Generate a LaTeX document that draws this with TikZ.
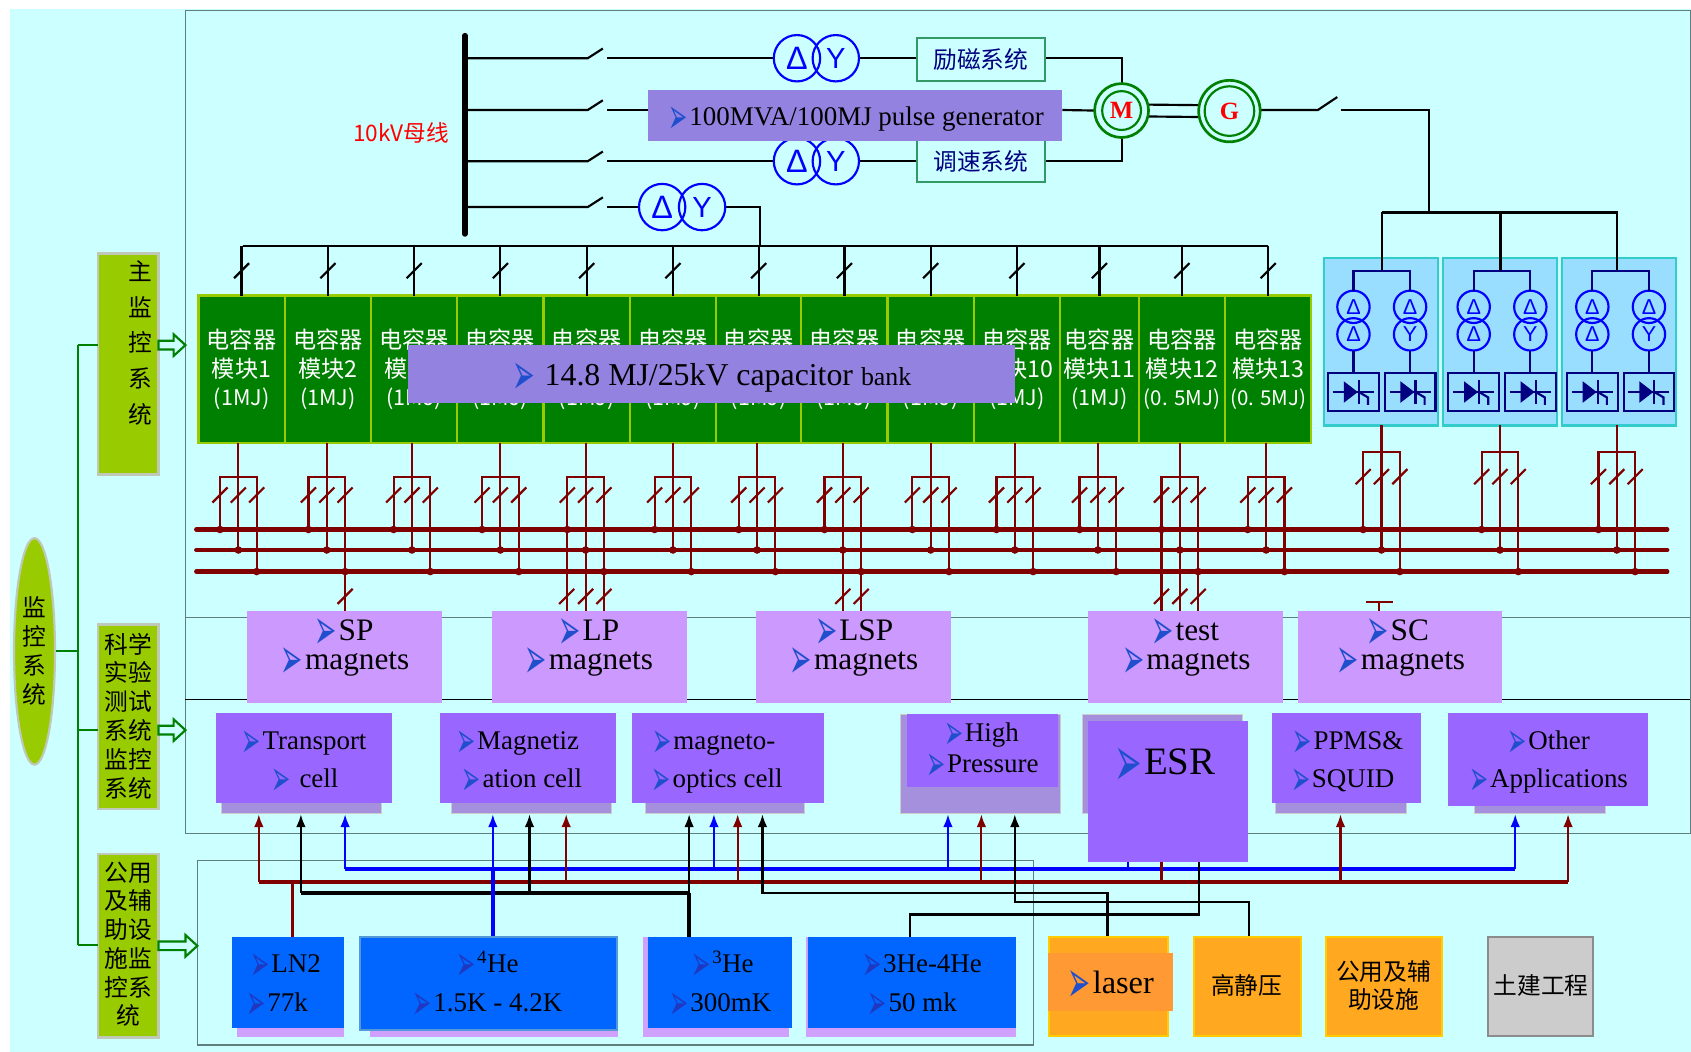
\documentclass[tikz,border=0pt]{standalone}
\usepackage{fontspec}
\usepackage{graphicx}
\usetikzlibrary{arrows.meta,calc,shapes.geometric}
\setmainfont{Liberation Serif}
\newfontfamily\cjkf{Noto Sans CJK SC}
\newfontfamily\bulf{DejaVu Sans}
\newfontfamily\lsf{Liberation Sans}
\definecolor{bgc}{HTML}{CCFFFF}
\definecolor{barg}{HTML}{99CC00}
\definecolor{bargb}{HTML}{C0C8B8}
\definecolor{mgreen}{HTML}{008000}
\definecolor{hpur}{HTML}{9382E0}
\definecolor{mag}{HTML}{CC99FF}
\definecolor{cell}{HTML}{9966FF}
\definecolor{shad}{HTML}{A590DD}
\definecolor{lowb}{HTML}{0066FF}
\definecolor{lowsh}{HTML}{D0A0FF}
\definecolor{oran}{HTML}{FFA820}
\definecolor{oran2}{HTML}{FF9933}
\definecolor{gold}{HTML}{FFCC00}
\definecolor{swb}{HTML}{99DDFF}
\definecolor{swbd}{HTML}{33CCCC}
\definecolor{dred}{HTML}{800000}
\definecolor{nav}{HTML}{000080}
\definecolor{teal2}{HTML}{339966}
\definecolor{frm}{HTML}{5F7F7F}
\definecolor{bulc}{HTML}{1F4FCC}
\definecolor{buld}{HTML}{2038C0}
\newcommand\fz[1]{\fontsize{#1}{#1}\selectfont}
\newcommand\blbase[1]{\smash{\raisebox{-.30em}{\scalebox{.85}[1.85]{\bulf\color{#1}➢}}}\kern.06em}
\newcommand\bl{\blbase{bulc}}
\newcommand\bld{\blbase{buld}}
\newcount\tcnt
\newcommand\tx[4][]{\global\advance\tcnt by 1 \node[txt,#1] (t\the\tcnt) at (#2,#3) {#4};}
% serif text: size, x, y of baseline, text
\newcommand\sx[4]{\global\advance\tcnt by 1 \node[txt,font=\fz{#1},text height={0.7*#1},text depth={0.2*#1}] (t\the\tcnt) at (#2,{#3-0.25*#1}) {#4};}
\newcommand\bx[6][]{\node[boxb,#1,minimum width={(#5)-(#3)},minimum height={(#6)-(#4)}] (#2) at ({((#3)+(#5))/2},{((#4)+(#6))/2}) {};}
\newcommand\swt[2]{\draw[wred] ({#1-7},{#2+7}) -- ({#1+7},{#2-7});}
\newcommand\blkswt[2]{\draw[wblack] ({#1-7},{#2+7}) -- ({#1+7},{#2-7});}
% feeder tree: name, x, top y, bracket y, slash y
\newcommand\feed[5]{%
 \coordinate (#1a) at (#2,#3);
 \coordinate (#1b) at (#2,510);
 \coordinate (#1l) at ({#2-17},491);
 \coordinate (#1r) at ({#2+17},530);
 \coordinate (#1tl) at ({#2-17},#4);
 \coordinate (#1tr) at ({#2+17},#4);
 \draw[wred] (#1a) -- (#1b);
 \draw[wred] (#1l) -- (#1tl) -- (#1tr) -- (#1r);
 \fill[dred] (#1l) circle (3.5) (#1b) circle (3.5) (#1r) circle (3.5);
 \swt{#2-17}{#5}\swt{#2}{#5}\swt{#2+17}{#5}}
\newcommand\hollow[3]{\draw[mgreen,line width=2,fill=bgc,line join=miter] (#1,#2-4) -- ({#3-11},#2-4) -- ({#3-11},#2-10) -- (#3,#2) -- ({#3-11},#2+10) -- ({#3-11},#2+4) -- (#1,#2+4) -- cycle;}
\pgfdeclarelayer{bg}
\pgfsetlayers{bg,main}
\tikzset{
 txt/.style={inner sep=0pt,outer sep=0pt,align=center},
 boxb/.style={inner sep=0pt,outer sep=0pt,rectangle},
 wblack/.style={black,line width=2},
 wred/.style={dred,line width=2},
 redbus/.style={dred,line width=4,line cap=round},
 xf/.style={circle,draw=blue,line width=2,inner sep=0pt,outer sep=0pt,text=blue,font=\lsf\fz{30},minimum size=43},
 xfs/.style={circle,draw=blue,line width=2,inner sep=0pt,outer sep=0pt,text=blue,font=\lsf\fz{20},minimum size=30},
 modbox/.style={rectangle,fill=mgreen,draw=barg,line width=2,inner sep=0pt,outer sep=0pt,text=white,align=center,font=\cjkf\fontsize{21.5}{26.5}\selectfont},
 cj/.style={font=\cjkf\fz{22}},
 ctrl/.style={fill=bgc,draw=teal2,line width=2},
 magb/.style={fill=mag},
 cellb/.style={fill=cell},
 shb/.style={fill=shad,draw=black!20,line width=.6},
 lowm/.style={fill=lowb},
 lows/.style={fill=lowsh},
 orb/.style={fill=oran,draw=gold,line width=2},
 upr/.style={dred,line width=2,-{Latex[length=12pt,width=9pt]}},
 upb/.style={blue,line width=2,-{Latex[length=12pt,width=9pt]}},
 upk/.style={black,line width=2,-{Latex[length=12pt,width=9pt]}},
 gln/.style={mgreen,line width=2},
}
\begin{document}
\begin{tikzpicture}[x=1pt,y=-1pt]
\useasboundingbox (0,0) rectangle (1568,975);
\begin{pgfonlayer}{bg}
 \fill[white] (0,0) rectangle (1568,975);
 \fill[bgc] (9,8) rectangle (1568,975);
 \draw[frm,line width=1] (172,10) rectangle (1567.5,773);
 \draw[frm,line width=1] (172,573) -- (1567.5,573);
 \draw[black,line width=1] (172,649) -- (1567.5,649);
 \draw[frm,line width=1] (183,798) rectangle (958,969);
\end{pgfonlayer}

%% left control column
\node[ellipse,fill=barg,draw=bargb,line width=2,inner sep=0pt,minimum width=38,minimum height=210] (ell) at (32,604) {};
\tx[font=\cjkf\fontsize{22}{27}\selectfont]{32}{603.5}{监\\控\\系\\统}
\bx[fill=barg,draw=bargb,line width=2]{bar1}{91}{235}{147}{440}
\tx[font=\cjkf\fontsize{22}{33}\selectfont]{130}{318}{主\\监\\控\\系\\统}
\bx[fill=barg,draw=bargb,line width=2]{bar2}{91}{579}{147}{750}
\tx[font=\cjkf\fontsize{22}{26.8}\selectfont]{119}{664}{科学\\实验\\测试\\系统\\监控\\系统}
\bx[fill=barg,draw=bargb,line width=2]{bar3}{91}{792}{147}{962}
\tx[font=\cjkf\fontsize{22}{26.6}\selectfont]{119}{875.5}{公用\\及辅\\助设\\施监\\控系\\统}
\coordinate (gt) at (72,320);
\coordinate (gm) at (72,604);
\coordinate (g2) at (72,677);
\coordinate (gb) at (72,876);
\draw[gln] (ell.east |- gm) -- (gm);
\draw[gln] (gt) -- (gb);
\draw[gln] (gt) -- (bar1.west |- gt);
\draw[gln] (g2) -- (bar2.west |- g2);
\draw[gln] (gb) -- (bar3.west |- gb);
\hollow{147}{320}{172}
\hollow{147}{677}{172}
\hollow{147}{877}{183}

%% 10 kV bus and generator set
\coordinate (vbt) at (431,33);
\coordinate (vbb) at (431,217);
\draw[black,line width=5,line cap=round] (vbt) -- (vbb);
\tx[font=\cjkf\fz{21},text=red]{372}{123}{10kV母线}

\bx[ctrl]{ex}{850}{35}{969}{75}
\tx[cj,text=nav]{909.5}{55}{励磁系统}
\bx[ctrl]{sp}{850}{130}{969}{169}
\tx[cj,text=nav]{909.5}{149.5}{调速系统}
\node[xf] (d1) at (739,54) {Δ};
\node[xf,font=\lsf\fz{27}] (y1) at (775,54) {Y};
\node[xf] (d2) at (739,149.5) {Δ};
\node[xf,font=\lsf\fz{27}] (y2) at (775,149.5) {Y};
\node[xf] (d3) at (614,192) {Δ};
\node[xf,font=\lsf\fz{27}] (y3) at (651,192) {Y};

\node[circle,draw=mgreen,line width=2.5,inner sep=0pt,outer sep=0pt,minimum size=50,text=red,font=\bfseries\fz{23}] (M) at (1040,102.5) {M};
\draw[mgreen,line width=2] (M.center) circle (18);
\node[circle,draw=mgreen,line width=2.5,inner sep=0pt,outer sep=0pt,minimum size=57,text=red,font=\bfseries\fz{23}] (G) at (1140,103) {G};
\draw[mgreen,line width=2] (G.center) circle (23);

\begin{pgfonlayer}{bg}
 \foreach \r/\yy in {1/54,2/102,3/149.5,4/192}{
  \coordinate (bs\r) at (431,\yy);
  \coordinate (sa\r) at (545,\yy);
  \coordinate (sb\r) at (563,\yy);
  \draw[wblack] (bs\r) -- (sa\r) -- ++(14,-9);
 }
 \draw[wblack] (sb1) -- (d1.west);
 \draw[wblack] (y1.east) -- (y1.east -| ex.west);
 \draw[wblack] (ex.east |- y1.east) -| (M.north);
 \coordinate (pgl) at (601,102);
 \coordinate (pgr) at (985,102);
 \draw[wblack] (sb2) -- (pgl);
 \draw[wblack] (pgr) -- (M.west);
 \draw[wblack] (sb3) -- (d2.west);
 \draw[wblack] (y2.east) -- (y2.east -| sp.west);
 \draw[wblack] (sp.east |- y2.east) -| (M.south);
 \draw[wblack] (sb4) -- (d3.west);
 \coordinate (xb) at (705,228);
 \draw[wblack] (y3.east) -| (xb);
 \draw[wblack] ($(M.east)+(-1,-5.5)$) -- ($(G.west)+(1,-5.5)$);
 \draw[wblack] ($(M.east)+(-1,5.5)$) -- ($(G.west)+(1,5.5)$);
 \coordinate (ga) at (1222,102);
 \coordinate (gc) at (1243,102);
 \coordinate (gd) at (1325,197);
 \draw[wblack] (G.east |- ga) -- (ga) -- ++(18,-12);
 \draw[wblack] (gc) -| (gd);
\end{pgfonlayer}

\bx[fill=hpur]{pg}{601}{83}{985}{131}
\sx{25}{794}{116}{\bl 100MVA/100MJ pulse generator}

%% capacitor modules
\coordinate (cbl) at (225,228);
\coordinate (cbr) at (1176,228);
\draw[wblack] (cbl) -- (cbr);
\foreach \i/\a/\b/\f/\lab in {
 1/184/264/221/{\fz{20}(1MJ)},2/264/344/303/{\fz{20}(1MJ)},3/344/424/382/{\fz{20}(1MJ)},4/424/504/464/{\fz{20}(1MJ)},
 5/504/584/543/{\fz{20}(1MJ)},6/584/664/624/{\fz{20}(1MJ)},7/664/743/702/{\fz{20}(1MJ)},8/743/823/781.5/{\fz{20}(1MJ)},
 9/823/903/863/{\fz{20}(1MJ)},10/903/983/941/{\fz{20}(1MJ)},11/983/1056/1018/{\fz{20}(1MJ)},
 12/1056/1136/1094/{\fz{19}(0. 5MJ)},13/1136/1216/1174/{\fz{19}(0. 5MJ)}}{
 \pgfmathsetmacro\cc{(\a+\b)/2}
 \pgfmathsetmacro\ww{\b-\a}
 \node[modbox,minimum width=\ww,minimum height=137] (m\i) at (\cc,342.5) {电容器\\模块\i\\\lab};
 \coordinate (top\i) at (\cc,228);
 \draw[wblack] (top\i) -- (m\i.north);
 \blkswt{\cc}{251}
 \feed{\i}{\f}{411}{442}{459}
}
\bx[fill=hpur]{cap}{378}{320}{941}{374}
\sx{29.5}{660}{357}{\bl\ 14.8 MJ/25kV capacitor {\fz{24}bank}}

%% rectifier groups
\foreach \g/\bl/\br/\dx in {1/1228/1333/0,2/1338/1444/111.5,3/1448.6/1554/221.5}{
 \bx[fill=swb,draw=swbd,line width=2]{sw\g}{\bl}{239}{\br}{394.5}
 \pgfmathsetmacro\xl{1255+\dx}
 \pgfmathsetmacro\xr{1307.5+\dx}
 \pgfmathsetmacro\xd{1281.5+\dx*0.985}
 \coordinate (br\g) at (\xd,197);
 \coordinate (bm\g) at (\xd,251);
 \draw[wblack] (br\g) -- (bm\g);
 \node[xfs] (a\g) at (\xl,284.5) {Δ};
 \node[xfs] (b\g) at (\xl,310) {Δ};
 \node[xfs] (c\g) at (\xr,284.5) {Δ};
 \node[xfs] (e\g) at (\xr,310) {Y};
 \bx[draw=nav,line width=2]{tl\g}{\xl-23.5}{346}{\xl+23.5}{381}
 \bx[draw=nav,line width=2]{tr\g}{\xr-23.5}{346}{\xr+23.5}{381}
 \coordinate (bb\g) at (\xl,251);
 \draw[nav,line width=2] (a\g.north) -- (bb\g) -- (bb\g -| c\g.north) -- (c\g.north);
 \draw[nav,line width=2] (b\g.south) -- (tl\g.north);
 \draw[nav,line width=2] (e\g.south) -- (tr\g.north);
 \foreach \t in {tl\g,tr\g}{
  \draw[nav,line width=2] ($(\t.center)+(-19,0)$) -- ($(\t.center)+(19,0)$);
  \fill[nav] ($(\t.center)+(-9,-10)$) -- ($(\t.center)+(4,0)$) -- ($(\t.center)+(-9,10)$) -- cycle;
  \draw[nav,line width=2] ($(\t.center)+(5,-11)$) -- ($(\t.center)+(5,11)$);
  \draw[nav,line width=2] ($(\t.center)+(5,0)$) -- ($(\t.center)+(13.5,5)$) -- ($(\t.center)+(13.5,12)$);
 }
 \pgfmathsetmacro\ff{1281+\dx*0.985}
 \feed{s\g}{\ff}{394.5}{419}{442}
}
\coordinate (gbl) at (1281.5,197);
\coordinate (gbr) at (1500,197);
\draw[wblack] (gbl) -- (gbr);

%% capacitor buses
\begin{pgfonlayer}{bg}
 \foreach \y in {491,510,530}{
  \coordinate (pa\y) at (182,\y);
  \coordinate (pb\y) at (1546,\y);
  \draw[redbus] (pa\y) -- (pb\y);
 }
\end{pgfonlayer}

%% magnets
\bx[magb]{mSP}{229}{567}{410}{652}
\bx[magb]{mLP}{456}{567}{637}{652}
\bx[magb]{mLSP}{701}{567}{882}{652}
\bx[magb]{mT}{1009}{567}{1190}{652}
\bx[magb]{mSC}{1204}{567}{1393}{652}
\sx{29}{319}{593.5}{\bl SP}
\sx{29}{320}{620.7}{\bl magnets}
\sx{29}{546}{593.5}{\bl LP}
\sx{29}{546}{620.7}{\bl magnets}
\sx{29}{792}{593.5}{\bl LSP}
\sx{29}{792}{620.7}{\bl magnets}
\sx{29}{1099}{593.5}{\bl test}
\sx{29}{1100}{620.7}{\bl magnets}
\sx{29}{1296}{593.5}{\bl SC}
\sx{29}{1299}{620.7}{\bl magnets}
\foreach \n/\t in {2r/mSP,5l/mLP,5b/mLP,5r/mLP,8b/mLSP,8r/mLSP,12l/mT,12b/mT,12r/mT}{
 \draw[wred] (\n) -- (\n |- \t.north);
}
\swt{320}{553}\swt{525.5}{553}\swt{543}{553}\swt{560}{553}
\swt{781.5}{553}\swt{798.5}{553}\swt{1077}{553}\swt{1094}{553}\swt{1111}{553}
\coordinate (tsa) at (1267,558);
\coordinate (tsb) at (1292,558);
\coordinate (tsc) at (1279,558);
\draw[wred] (tsa) -- (tsb);
\draw[wred] (tsc) -- (tsc |- mSC.north);

%% cells
\bx[shb]{sTr}{205}{720}{354}{754}
\bx[cellb]{cTr}{200}{661}{363.5}{745}
\sx{25}{282}{694.6}{\bl Transport}
\sx{25}{283}{730.4}{\bl\ cell}
\bx[shb]{sMa}{418.5}{720}{567}{754}
\bx[cellb]{cMa}{408}{661}{571}{745}
\sx{25}{480}{694.6}{\bl Magnetiz}
\sx{25}{484}{730.4}{\bl ation cell}
\bx[shb]{sMo}{598}{720}{746}{754}
\bx[cellb]{cMo}{586}{661}{764}{745}
\sx{25}{662}{694.6}{\bl magneto-}
\sx{25}{665}{730.4}{\bl optics cell}
\bx[shb]{sHi}{834.5}{662}{983}{754}
\bx[cellb]{cHi}{841}{662}{981}{730}
\sx{25}{910}{687.8}{\bl High}
\sx{25}{911}{715.9}{\bl Pressure}
\bx[shb]{sEs}{1003.5}{662}{1152}{754}
\bx[cellb]{cEs}{1008.5}{668.5}{1157.5}{799}
\sx{36}{1080}{718.3}{\bl ESR}
\bx[shb]{sPP}{1182.5}{720}{1304}{754}
\bx[cellb]{cPP}{1179.5}{661}{1317.5}{745}
\sx{25}{1250}{694.6}{\bl PPMS\&}
\sx{25}{1245}{730}{\bl SQUID}
\bx[shb]{sOt}{1367.5}{720}{1488.5}{754}
\bx[cellb]{cOt}{1342.5}{661}{1528}{747.5}
\sx{25}{1436}{694.6}{\bl Other}
\sx{25}{1436}{730}{\bl Applications}

%% sources
\bx[lows]{sL}{220}{900}{319}{962}
\bx[lowm]{bL}{215}{869}{319}{953}
\sx{25}{265}{902}{\bld LN2}
\sx{25}{257}{937.5}{\bld 77k}
\bx[lows]{sH}{343}{900}{573}{962}
\bx[lowm,draw=cyan!60!blue!70,line width=1.5]{bH}{334}{869}{572}{955}
\sx{25}{452}{902}{\bld\textsuperscript{4}He}
\sx{25}{452}{937.5}{\bld 1.5K - 4.2K}
\bx[lows]{s3}{596}{869}{732}{962}
\bx[lowm]{b3}{600.5}{869}{734}{953}
\sx{25}{670}{902}{\bld\textsuperscript{3}He}
\sx{25}{668}{937.5}{\bld 300mK}
\bx[lows]{s34}{747}{869}{942}{962}
\bx[lowm]{b34}{749.5}{869}{942}{953}
\sx{25}{855}{902}{\bld 3He-4He}
\sx{25}{846}{937.5}{\bld 50 mk}
\bx[orb]{oL}{973}{869}{1083}{961}
\bx[fill=oran2]{iL}{972}{884}{1087.5}{937.5}
\sx{30}{1030}{921}{\bl laser}
\bx[orb]{oG}{1107}{869}{1206}{961}
\tx[cj]{1156}{914}{高静压}
\bx[orb]{oU}{1229.5}{869}{1337}{961}
\tx[font=\cjkf\fontsize{22}{26.5}\selectfont]{1283}{914}{公用及辅\\助设施}
\bx[fill=black!20,draw=black!45,line width=2]{oC}{1379.5}{869}{1477}{961}
\tx[cj]{1429}{914}{土建工程}

%% service lines
\begin{pgfonlayer}{bg}
 \coordinate (rL) at (240,818);
 \coordinate (rR) at (1454,818);
 \coordinate (bL2) at (320,806);
 \coordinate (bR) at (1405,806);
 \coordinate (kL) at (279,828);
 \coordinate (kR) at (639,828);
 \draw[dred,line width=4] (rL) -- (rR);
 \draw[blue,line width=4] (bL2) -- (bR);
 \draw[black,line width=3.5] (kL) -- (kR);
 \coordinate (rN) at (271,818);
 \draw[dred,line width=3] (rN) -- (rN |- bL.north);
 \coordinate (bN) at (457,806);
 \draw[blue,line width=3.5] (bN) -- (bN |- bH.north);
 \draw[black,line width=3.5] (kR) -- (kR |- b3.north);
 \foreach \x in {240,525,684,910,1243,1454}{
  \coordinate (rb\x) at (\x,818); \coordinate (ra\x) at (\x,755);
  \draw[upr] (rb\x) -- (ra\x);
 }
 \foreach \x in {320,457,662,879,1405}{
  \coordinate (ub\x) at (\x,806); \coordinate (ua\x) at (\x,755);
  \draw[upb] (ub\x) -- (ua\x);
 }
 \foreach \x in {279,491,639}{
  \coordinate (kb\x) at (\x,828); \coordinate (ka\x) at (\x,755);
  \draw[upk] (kb\x) -- (ka\x);
 }
 \coordinate (esb) at (1046,806);
 \draw[blue,line width=2] (esb) -- (esb |- cEs.south);
 \coordinate (esr) at (1077,818);
 \draw[dred,line width=2] (esr) -- (esr |- cEs.south);
 \coordinate (k1a) at (707,755);
 \coordinate (k1b) at (707,828);
 \coordinate (k1c) at (1027,828);
 \draw[black,line width=2,{Latex[length=12pt,width=9pt]}-] (k1a) -- (k1b) -- (k1c) -- (k1c |- oL.north);
 \coordinate (k2a) at (941,755);
 \coordinate (k2b) at (941,836);
 \coordinate (k2c) at (1158,836);
 \draw[black,line width=2,{Latex[length=12pt,width=9pt]}-] (k2a) -- (k2b) -- (k2c) -- (k2c |- oG.north);
 \coordinate (k3a) at (844,848);
 \coordinate (k3b) at (1112,848);
 \draw[black,line width=2] (k3a |- b34.north) -- (k3a) -- (k3b) -- (k3b |- cEs.south);
\end{pgfonlayer}
\end{tikzpicture}
\end{document}
